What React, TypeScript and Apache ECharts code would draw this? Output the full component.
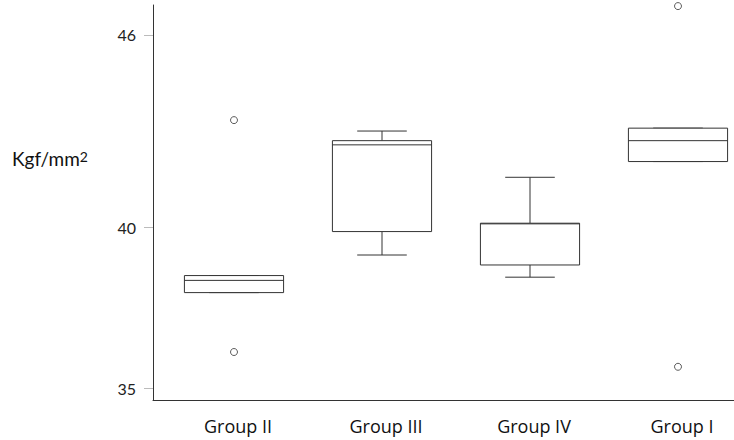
import React, { useEffect, useRef } from "react";
import * as echarts from "echarts";

const categories = ["Group II", "Group III", "Group IV", "Group I"];
const boxMin = [37.98, 39.15, 38.46, 42.06];
const boxQ1 = [37.98, 39.88, 38.84, 42.06];
const boxMedian = [38.36, 42.58, 40.12, 42.71];
const boxQ3 = [38.51, 42.71, 40.14, 43.1];
const boxMax = [38.51, 43.01, 41.57, 43.1];
const outlierGroup = ["Group II", "Group II", "Group I", "Group I"];
const outlierValue = [43.35, 36.13, 46.9, 35.67];
const yTicks = [35, 40, 46];
const yMin = 34.636;
const yMax = 46.934;

export default function App() {
  const ref = useRef<HTMLDivElement>(null);
  useEffect(() => {
    if (!ref.current) return;
    const chart = echarts.init(ref.current, undefined, { renderer: "svg" });
    const lineColor = "#333";
    const boxData = categories.map((c, i) => [i, boxMin[i], boxQ1[i], boxMedian[i], boxQ3[i], boxMax[i]]);
    const outData = outlierGroup.map((g, i) => [g, outlierValue[i]]);
    const renderItem = (params: any, api: any) => {
      const idx = api.value(0);
      const band = api.size([1, 0])[0];
      const half = band * 0.335;
      const capHalf = half / 2;
      const pMin = api.coord([idx, api.value(1)]);
      const pQ1 = api.coord([idx, api.value(2)]);
      const pMed = api.coord([idx, api.value(3)]);
      const pQ3 = api.coord([idx, api.value(4)]);
      const pMax = api.coord([idx, api.value(5)]);
      const x = pQ1[0];
      const st = { stroke: lineColor, lineWidth: 1, fill: null };
      return {
        type: "group",
        children: [
          { type: "line", shape: { x1: x, y1: pMax[1], x2: x, y2: pQ3[1] }, style: st },
          { type: "line", shape: { x1: x, y1: pQ1[1], x2: x, y2: pMin[1] }, style: st },
          { type: "line", shape: { x1: x - capHalf, y1: pMax[1], x2: x + capHalf, y2: pMax[1] }, style: st },
          { type: "line", shape: { x1: x - capHalf, y1: pMin[1], x2: x + capHalf, y2: pMin[1] }, style: st },
          {
            type: "rect",
            shape: { x: x - half, y: pQ3[1], width: half * 2, height: pQ1[1] - pQ3[1] },
            style: { stroke: lineColor, lineWidth: 1, fill: "#fff" },
          },
          { type: "line", shape: { x1: x - half, y1: pMed[1], x2: x + half, y2: pMed[1] }, style: st },
        ],
      };
    };
    chart.setOption({
      animation: false,
      backgroundColor: "#fff",
      grid: [
        { left: 153, right: 0, top: 5, bottom: 40, outerBoundsMode: "none", containLabel: false },
        { left: 160, width: 592, top: 5, bottom: 40, outerBoundsMode: "none", containLabel: false },
      ],
      xAxis: [
        {
          type: "value",
          gridIndex: 0,
          min: 0,
          max: 1,
          axisLine: { show: true, onZero: false, lineStyle: { color: lineColor, width: 1 } },
          axisTick: { show: false },
          axisLabel: { show: false },
          splitLine: { show: false },
        },
        {
          type: "category",
          gridIndex: 1,
          data: categories,
          axisLine: { show: false },
          axisTick: { show: false },
          axisLabel: {
            color: "#111",
            fontFamily: "Open Sans",
            fontSize: 18,
            margin: 17,
            padding: [0, 0, 0, 8],
          },
          splitLine: { show: false },
        },
      ],
      yAxis: [
        {
          type: "value",
          gridIndex: 0,
          min: yMin,
          max: yMax,
          axisLine: { show: true, lineStyle: { color: lineColor, width: 1 } },
          axisTick: { show: true, length: 9, customValues: yTicks, lineStyle: { color: "#bbb" } },
          axisLabel: {
            customValues: yTicks,
            color: "#222",
            fontFamily: "Lato",
            fontSize: 16,
            margin: 17,
          },
          splitLine: { show: false },
        },
        {
          type: "value",
          gridIndex: 1,
          min: yMin,
          max: yMax,
          show: false,
          splitLine: { show: false },
        },
      ],
      graphic: [
        {
          type: "text",
          left: 12,
          top: 149,
          style: {
            text: "{a|Kgf/mm}{s|2}",
            rich: {
              a: { fontSize: 19, fontFamily: "Lato", fill: "#111" },
              s: { fontSize: 14, fontFamily: "Lato", fill: "#111", verticalAlign: "top" },
            },
          },
        },
      ],
      series: [
        {
          type: "custom",
          xAxisIndex: 1,
          yAxisIndex: 1,
          renderItem,
          data: boxData,
          encode: { x: 0, y: [1, 2, 3, 4, 5] },
          clip: false,
        },
        {
          type: "scatter",
          xAxisIndex: 1,
          yAxisIndex: 1,
          data: outData,
          symbol: "circle",
          symbolSize: 7,
          itemStyle: { color: "#fff", borderColor: lineColor, borderWidth: 1 },
          clip: false,
        },
      ],
    });
    return () => chart.dispose();
  }, []);
  return (
    <div
      ref={ref}
      style={{ position: "absolute", left: 0, top: 0, width: 734, height: 440 }}
    />
  );
}
